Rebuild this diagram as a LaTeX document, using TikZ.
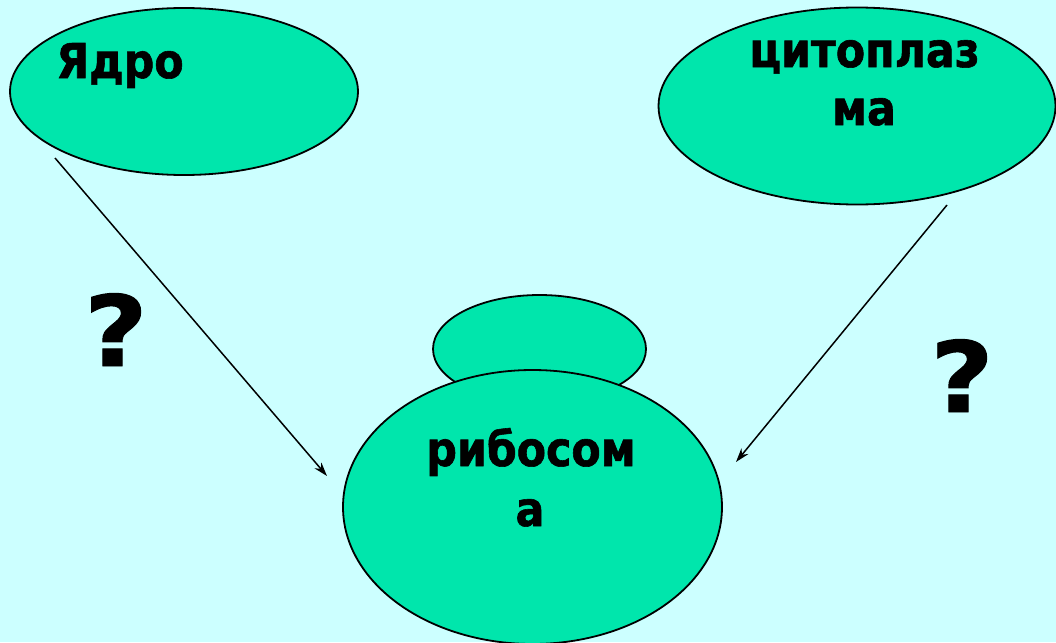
\documentclass[tikz,border=0pt]{standalone}
\usepackage{fontspec}
\usetikzlibrary{shapes.geometric,arrows.meta}
\newfontfamily\dfont[FakeStretch=0.89,FakeBold=1.2]{DejaVu Sans}
\newfontfamily\qfont[FakeStretch=1.12,FakeBold=1.0]{DejaVu Sans}
\definecolor{bgcyan}{RGB}{204,255,255}
\definecolor{cellgreen}{RGB}{0,230,172}
\begin{document}
\begin{tikzpicture}[x=1pt,y=-1pt,
  cell/.style={ellipse,draw=black,line width=1.8pt,fill=cellgreen,inner sep=0pt},
  lbl/.style={anchor=base,inner sep=0pt,font=\dfont\bfseries\fontsize{48}{48}\selectfont},
  qmark/.style={anchor=base,inner sep=0pt,font=\qfont\bfseries\fontsize{98}{98}\selectfont},
  conn/.style={line width=1.5pt,-{Stealth[length=14pt,width=9pt]}}]
\fill[bgcyan] (0,0) rectangle (1056,642);
\useasboundingbox (0,0) rectangle (1056,642);
% ellipses
\node[cell,minimum width=348pt,minimum height=167pt] (yadro) at (184,91.5) {};
\node[cell,minimum width=397pt,minimum height=197pt] (cyto) at (857,106) {};
\node[cell,minimum width=213pt,minimum height=108pt] (small) at (539.5,349) {};
\node[cell,minimum width=379pt,minimum height=274pt] (ribo) at (532.5,507) {};
% labels
\node[lbl] (tY) at (120,78) {Ядро};
\node[lbl] (tC1) at (864.5,67) {цитоплаз};
\node[lbl] (tC2) at (864,125) {ма};
\node[lbl] (tR1) at (531,466) {рибосом};
\node[lbl] (tR2) at (530,526) {а};
\node[qmark] (q1) at (116,366) {?};
\node[qmark] (q2) at (962,412) {?};
% connectors
\coordinate (s1) at (55,158);
\coordinate (e1) at (327,476);
\coordinate (s2) at (947,205);
\coordinate (e2) at (736,462);
\draw[conn] (s1) -- (e1);
\draw[conn] (s2) -- (e2);
\end{tikzpicture}
\end{document}
